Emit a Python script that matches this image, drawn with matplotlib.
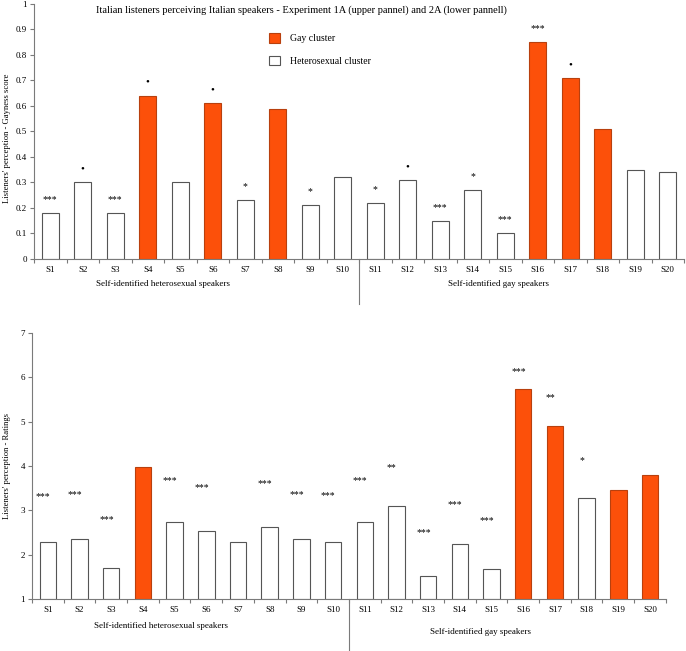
import matplotlib
matplotlib.use("Agg")
import matplotlib.pyplot as plt
import matplotlib.transforms as mtransforms
from matplotlib.patches import Patch
import numpy as np

plt.rcParams['font.family'] = ['Liberation Serif', 'DejaVu Serif']

speakers = ["S%d" % i for i in range(1, 21)]

# Experiment 1A - gayness score
gayness = [0.18, 0.30, 0.18, 0.64, 0.30, 0.61, 0.23, 0.59, 0.21, 0.32,
           0.22, 0.31, 0.15, 0.27, 0.10, 0.85, 0.71, 0.51, 0.35, 0.34]
gay_cluster_upper = [0, 0, 0, 1, 0, 1, 0, 1, 0, 0,
                     0, 0, 0, 0, 0, 1, 1, 1, 0, 0]
sig_upper = ["***", "\u2022", "***", "\u2022", "", "\u2022", "*", "", "*", "",
             "*", "\u2022", "***", "*", "***", "***", "\u2022", "", "", ""]

# Experiment 2A - ratings
ratings = [2.28, 2.35, 1.70, 3.97, 2.73, 2.53, 2.28, 2.62, 2.35, 2.28,
           2.73, 3.10, 1.52, 2.24, 1.67, 5.73, 4.90, 3.28, 3.45, 3.79]
gay_cluster_lower = [0, 0, 0, 1, 0, 0, 0, 0, 0, 0,
                     0, 0, 0, 0, 0, 1, 1, 0, 1, 1]
sig_lower = ["***", "***", "***", "", "***", "***", "", "***", "***", "***",
             "***", "**", "***", "***", "***", "***", "**", "*", "", ""]
sig_lower_y = [3.32, 3.36, 2.80, 0, 3.68, 3.52, 0, 3.60, 3.36, 3.34,
               3.68, 3.97, 2.50, 3.14, 2.76, 6.13, 5.55, 4.13, 0, 0]

ORANGE = '#FC500A'
ORANGE_EDGE = '#B8400E'
GREY = '#7a7a7a'

fig = plt.figure(figsize=(6.86, 6.51), dpi=100)
ax1 = fig.add_axes([0.0496, 0.6022, 0.9475, 0.3917])
ax2 = fig.add_axes([0.0466, 0.0799, 0.924, 0.4086])

x = np.arange(1, 21)


def style_axis(ax, ymin, ymax, yticks):
    ax.set_xlim(0.5, 20.5)
    ax.set_ylim(ymin, ymax)
    for s in ['top', 'right']:
        ax.spines[s].set_visible(False)
    for s in ['left', 'bottom']:
        ax.spines[s].set_color(GREY)
        ax.spines[s].set_linewidth(0.8)
    ax.set_yticks(yticks)
    ax.set_yticklabels(["%g" % t for t in yticks], fontsize=6.5)
    ax.set_xticks(np.arange(0.5, 21, 1))
    ax.set_xticklabels([])
    ax.set_xticks(x, minor=True)
    ax.set_xticklabels(speakers, minor=True, fontsize=6.5)
    ax.tick_params(axis='x', which='minor', length=0, pad=5)
    ax.tick_params(axis='x', which='major', length=3, color=GREY)
    ax.tick_params(axis='y', length=3, color=GREY, pad=2)


def draw_bars(ax, vals, cluster, base):
    heights = [v - base for v in vals]
    colors = [ORANGE if c else 'white' for c in cluster]
    edges = [ORANGE_EDGE if c else '#555555' for c in cluster]
    ax.bar(x, heights, bottom=base, width=0.52, color=colors,
           edgecolor=edges, linewidth=0.8, zorder=2)


# upper panel
draw_bars(ax1, gayness, gay_cluster_upper, 0)
style_axis(ax1, 0, 1, np.round(np.arange(0, 1.01, 0.1), 1))
for xi, v, s in zip(x, gayness, sig_upper):
    if s:
        fs = 8 if s == "\u2022" else 7
        ax1.text(xi, v + 0.035, s, ha='center', va='bottom', fontsize=fs)
ax1.set_ylabel("Listeners' perception - Gayness score", fontsize=6.2)
ax1.yaxis.set_label_coords(-0.035, 0.475)

trans1 = mtransforms.blended_transform_factory(ax1.transData, ax1.transAxes)
ax1.plot([10.5, 10.5], [0, -0.175], color=GREY, lw=0.8, transform=trans1, clip_on=False)
ax1.text(4.47, -0.10, "Self-identified heterosexual speakers", transform=trans1,
         ha='center', va='center', fontsize=6.5)
ax1.text(14.8, -0.10, "Self-identified gay speakers", transform=trans1,
         ha='center', va='center', fontsize=6.5)

handles = [Patch(facecolor=ORANGE, edgecolor=ORANGE_EDGE, linewidth=0.8),
           Patch(facecolor='white', edgecolor='#555555', linewidth=0.8)]
fig.legend(handles, ["Gay cluster", "Heterosexual cluster"], loc='upper left',
           bbox_to_anchor=(0.38, 0.962), frameon=False, fontsize=7,
           handlelength=1.1, handleheight=1.1, labelspacing=1.3, handletextpad=1.0)

fig.text(0.44, 0.992, "Italian listeners perceiving Italian speakers - Experiment 1A "
         "(upper pannel) and 2A (lower pannell)", ha='center', va='top', fontsize=7.45)

# lower panel
draw_bars(ax2, ratings, gay_cluster_lower, 1)
style_axis(ax2, 1, 7, np.arange(1, 8))
for xi, yv, s in zip(x, sig_lower_y, sig_lower):
    if s:
        ax2.text(xi - 0.15, yv, s, ha='center', va='center', fontsize=7)
ax2.set_ylabel("Listeners' perception - Ratings", fontsize=6.2)
ax2.yaxis.set_label_coords(-0.033, 0.5)

trans2 = mtransforms.blended_transform_factory(ax2.transData, ax2.transAxes)
ax2.plot([10.5, 10.5], [0, -0.195], color=GREY, lw=0.8, transform=trans2, clip_on=False)
ax2.text(4.57, -0.10, "Self-identified heterosexual speakers", transform=trans2,
         ha='center', va='center', fontsize=6.5)
ax2.text(14.66, -0.125, "Self-identified gay speakers", transform=trans2,
         ha='center', va='center', fontsize=6.5)

fig.savefig("out.png", dpi=100)
